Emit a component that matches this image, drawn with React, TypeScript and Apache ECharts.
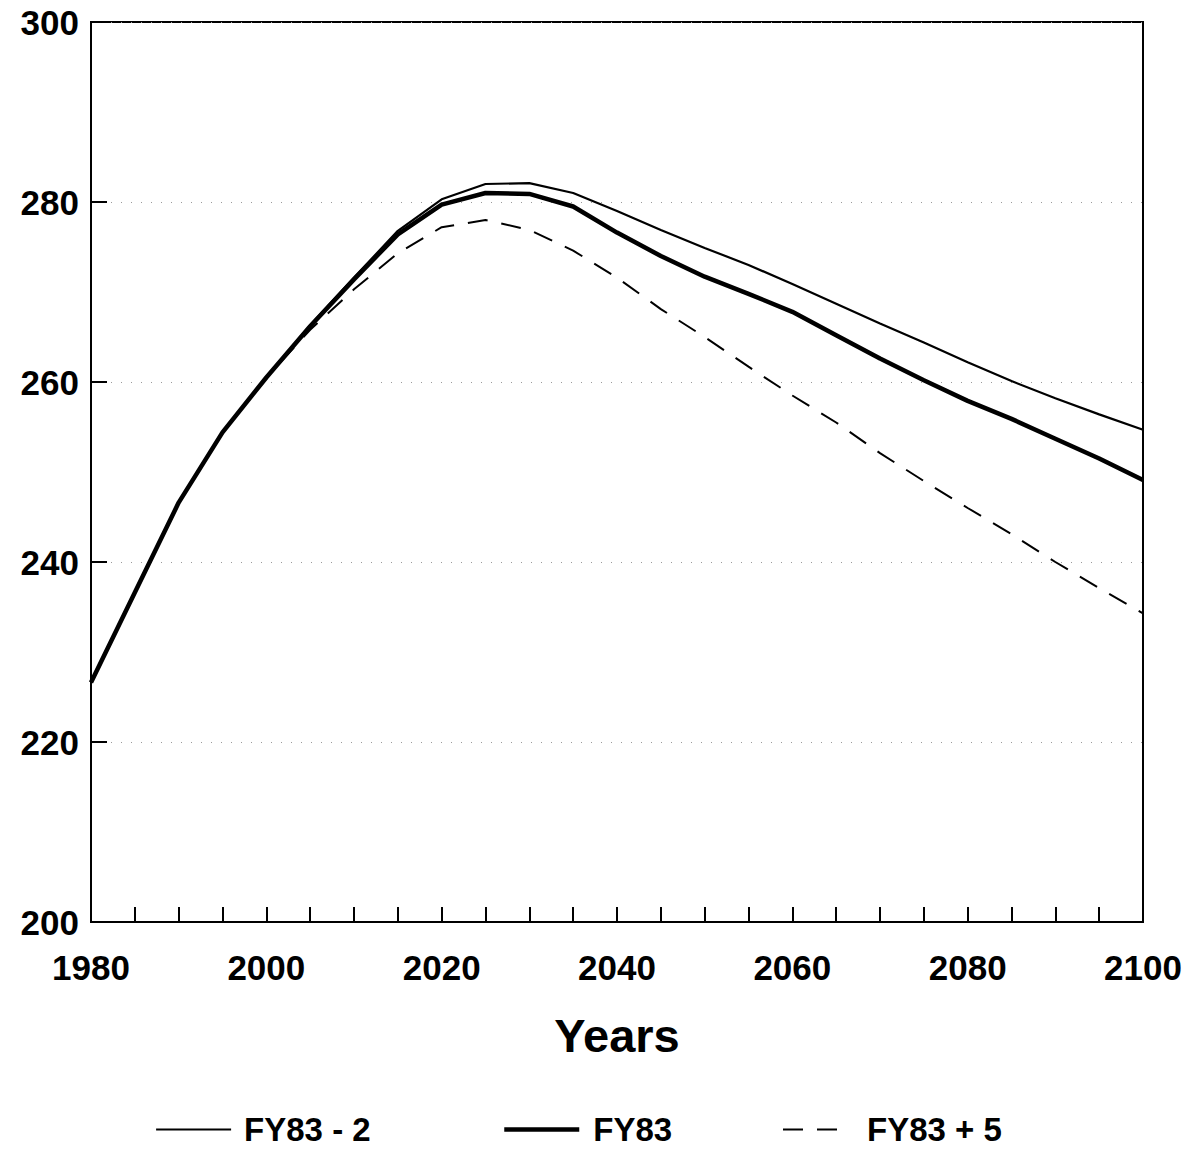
import React, { useEffect, useRef } from "react";
import * as echarts from "echarts";

const years = [1980, 1985, 1990, 1995, 2000, 2005, 2010, 2015, 2020, 2025, 2030, 2035, 2040, 2045, 2050, 2055, 2060, 2065, 2070, 2075, 2080, 2085, 2090, 2095, 2100];
const fy83Minus2 = [226.6, 236.6, 246.6, 254.4, 260.5, 266.3, 271.6, 276.8, 280.3, 282.0, 282.1, 281.0, 279.0, 276.9, 274.9, 273.0, 270.9, 268.7, 266.5, 264.4, 262.2, 260.1, 258.2, 256.4, 254.7];
const fy83 = [226.6, 236.6, 246.6, 254.4, 260.5, 266.2, 271.4, 276.4, 279.7, 281.0, 280.9, 279.5, 276.6, 274.0, 271.7, 269.8, 267.8, 265.2, 262.6, 260.2, 257.9, 255.9, 253.7, 251.5, 249.1];
const fy83Plus5 = [226.6, 236.6, 246.6, 254.4, 260.5, 265.8, 270.3, 274.3, 277.2, 278.0, 276.9, 274.6, 271.6, 268.1, 265.0, 261.7, 258.5, 255.5, 252.1, 249.0, 246.0, 243.1, 240.0, 237.1, 234.3];
const seriesNames = ["FY83 - 2", "FY83", "FY83 + 5"];
const xAxisTitle = "Years";

const FONT = "'Liberation Sans', Arial, Helvetica, sans-serif";

export default function App() {
  const ref = useRef<HTMLDivElement>(null);
  useEffect(() => {
    document.body.style.margin = "0";
    const chart = echarts.init(ref.current!, null, { renderer: "svg" });
    const pts = (arr: number[]) => years.map((y, i) => [y, arr[i]]);
    const legendText = { fontFamily: FONT, fontWeight: "bold" as const, fontSize: 33, color: "#000" };
    const lineStyles = [
      { color: "#000", width: 2.2 },
      { color: "#000", width: 4.5 },
      { color: "#000", width: 2, type: [20, 14] as number[] },
    ];
    chart.setOption({
      animation: false,
      backgroundColor: "#fff",
      color: ["#000", "#000", "#000"],
      grid: { left: 91, right: 50, top: 22, bottom: 228, show: true, borderColor: "#000", borderWidth: 2, backgroundColor: "transparent" },
      xAxis: {
        type: "value",
        min: 1980,
        max: 2100,
        interval: 20,
        axisLine: { show: true, lineStyle: { color: "#000", width: 2 } },
        axisTick: { show: true, inside: true, length: 15, lineStyle: { color: "#000", width: 2 } },
        minorTick: { show: true, splitNumber: 4, length: 15, lineStyle: { color: "#000", width: 2 } },
        splitLine: { show: false },
        axisLabel: { fontFamily: FONT, fontWeight: "bold", fontSize: 35, color: "#000", margin: 28, formatter: (v: number) => String(v) },
      },
      yAxis: {
        type: "value",
        min: 200,
        max: 300,
        interval: 20,
        axisLine: { show: true, lineStyle: { color: "#000", width: 2 } },
        axisTick: { show: true, inside: true, length: 16, lineStyle: { color: "#000", width: 2 } },
        splitLine: { show: true, lineStyle: { color: "#9a9a9a", width: 1, type: [1, 9] } },
        axisLabel: { fontFamily: FONT, fontWeight: "bold", fontSize: 35, color: "#000", margin: 12 },
      },
      legend: [
        { data: [seriesNames[0]], left: 150, top: 1108, itemWidth: 75, itemHeight: 14, itemStyle: { opacity: 0 }, lineStyle: lineStyles[0], textStyle: { ...legendText, padding: [0, 0, 0, 8] } },
        { data: [seriesNames[1]], left: 497, top: 1108, itemWidth: 75, itemHeight: 14, itemStyle: { opacity: 0 }, lineStyle: lineStyles[1], textStyle: { ...legendText, padding: [0, 0, 0, 9] } },
        { data: [seriesNames[2]], left: 777, top: 1108, itemWidth: 58, itemHeight: 14, itemStyle: { opacity: 0 }, lineStyle: lineStyles[2], textStyle: { ...legendText, padding: [0, 0, 0, 21] } },
      ],
      graphic: [
        { type: "text", x: 617, y: 1035, style: { text: xAxisTitle, fontFamily: FONT, fontWeight: "bold", fontSize: 47, fill: "#000", textAlign: "center", textVerticalAlign: "middle" } },
      ],
      series: [
        { name: seriesNames[0], type: "line", data: pts(fy83Minus2), symbol: "none", lineStyle: lineStyles[0] },
        { name: seriesNames[1], type: "line", data: pts(fy83), symbol: "none", lineStyle: lineStyles[1] },
        { name: seriesNames[2], type: "line", data: pts(fy83Plus5), symbol: "none", lineStyle: lineStyles[2] },
      ],
    });
    return () => chart.dispose();
  }, []);
  return <div ref={ref} style={{ width: 1193, height: 1150 }} />;
}
